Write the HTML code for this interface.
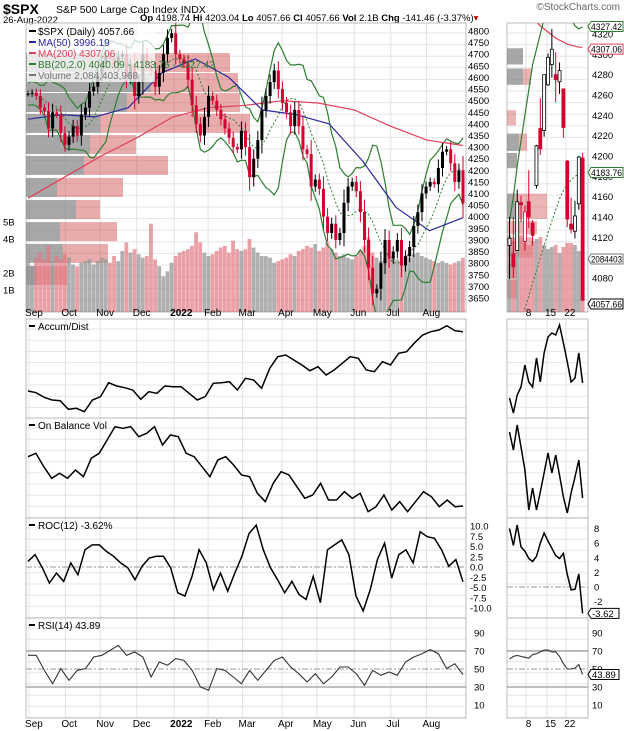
<!DOCTYPE html>
<html><head><meta charset="utf-8">
<style>
html,body{margin:0;padding:0;background:#fff;}
svg{display:block;font-family:"Liberation Sans",sans-serif;}
</style></head>
<body>
<svg id="chart" width="624" height="731" viewBox="0 0 624 731" xmlns="http://www.w3.org/2000/svg">
<defs>
<clipPath id="cm"><rect x="26" y="23" width="440" height="289"/></clipPath>
<clipPath id="cr"><rect x="507" y="23" width="81" height="289"/></clipPath>
</defs>
<rect x="0" y="0" width="624" height="731" fill="#fff"/>
<g>
<text x="3" y="14" font-size="14" font-weight="bold" fill="#000">$SPX</text>
<text x="56" y="13" font-size="10.5" fill="#000">S&amp;P 500 Large Cap Index INDX</text>
<text x="3" y="23" font-size="9.5" fill="#000">26-Aug-2022</text>
<text x="140" y="21" font-size="9.5" fill="#000"><tspan font-weight="bold">Op</tspan> 4198.74 <tspan font-weight="bold">Hi</tspan> 4203.04 <tspan font-weight="bold">Lo</tspan> 4057.66 <tspan font-weight="bold">Cl</tspan> 4057.66 <tspan font-weight="bold">Vol</tspan> 2.1B <tspan font-weight="bold">Chg</tspan> -141.46 (-3.37%)<tspan fill="#c00">▾</tspan></text>
<text x="620" y="10" font-size="10" fill="#666" text-anchor="end">©StockCharts.com</text>
</g>
<g id="grid"></g>
<g id="marks"></g>
<g id="labels"></g>
</svg>
<script>
// ---- data ----
const closes=[4530,4535,4520,4470,4455,4380,4450,4440,
4360,4310,4345,4390,4350,4440,4470,4540,4560,
4610,4660,4690,4680,4650,4690,4700,4600,4650,
4520,4580,4700,4660,4630,4560,4620,4700,4770,
4790,4700,4680,4660,4590,4480,4400,4350,4430,
4520,4500,4460,4420,4380,4340,4300,4290,
4370,4300,4170,4250,4330,4460,4520,4580,4630,
4550,4490,4450,4390,4460,4390,4290,4270,4130,
4160,4120,4000,3930,3970,3900,3930,4060,4130,
4150,4110,4020,3900,3780,3670,3690,3800,3900,
3820,3850,3900,3790,3830,3870,3960,4020,4100,
4130,4150,4140,4210,4280,4290,4230,4150,4200,4057];
const volumes=[2.6,2.4,2.9,3.2,2.8,3.6,2.7,3.0,2.8,3.1,2.9,2.5,2.4,2.6,2.7,2.8,2.5,
2.7,2.9,2.8,2.6,3.0,2.7,3.3,3.8,3.2,3.4,3.1,2.9,3.0,4.9,2.8,2.4,1.8,2.1,
2.6,3.0,3.2,3.3,3.4,3.6,4.4,3.8,3.2,3.0,3.1,3.3,3.5,3.6,3.2,3.9,3.4,
3.3,3.4,4.0,3.5,3.2,3.0,3.0,2.9,2.6,2.7,2.8,2.9,3.1,3.0,3.3,3.4,3.6,3.5,
3.7,3.3,3.5,3.8,3.4,3.2,3.0,3.1,2.9,2.8,3.0,3.3,3.6,4.1,3.2,2.9,2.7,2.8,
2.9,3.0,2.8,2.7,3.0,2.9,3.1,3.2,3.0,2.9,2.8,2.7,2.6,2.7,2.6,2.5,2.6,2.7,2.9];
const ma50=[4420,4440,4430,4470,4620,4680,4600,4460,4440,4400,4240,4040,3940,3996];
const ma200=[4080,4170,4260,4340,4430,4470,4480,4500,4490,4460,4390,4330,4307];
const priceTicks=[4800,4750,4700,4650,4600,4550,4500,4450,4400,4350,4300,4250,4200,4150,4100,4050,4000,3950,3900,3850,3800,3750,3700,3650];
const months=["Sep","Oct","Nov","Dec","2022","Feb","Mar","Apr","May","Jun","Jul","Aug"];
const monthIdx=[0.6,21.5,41.5,62.5,84,103.5,123.3,146,166,187.5,208.5,229];
// volume-by-price rows: top price of row, gray width, red width
const vbpHigh=[4705,4619,4533,4443,4352,4262,4167,4072,3977,3883,3788];
const vbpGray=[104,125,101,74,64,58,31,50,34,37,11];
const vbpRed=[100,87,113,150,46,84,66,24,57,45,30];
const accDist=[107,102,88,80,78,52,55,45,80,90,132,122,117,110,82,105,100,122,120,120,100,80,90,130,132,135,110,145,140,115,175,210,215,200,185,168,180,155,170,190,210,205,170,165,195,185,220,225,252,275,285,290,303,288,285];
const obv=[160,170,130,95,110,95,120,100,155,170,210,250,245,250,220,230,250,195,225,220,170,160,130,100,150,160,135,105,100,50,25,80,115,105,70,35,45,80,30,30,55,35,50,-5,10,45,0,25,-5,25,55,40,10,30,10,12];
const roc=[1.4,3.0,-0.2,-3.9,-1.5,-3.5,1.0,-1.9,4.2,5.4,5.4,3.8,2.6,1.0,-0.2,-3.1,0.2,2.2,2.6,2.6,-0.2,-6.3,-7.1,-2.3,4.2,1.0,-5.5,-1.5,-5.9,-1.5,2.6,8.2,10.2,4.2,-0.2,-3.1,-6.3,-3.5,-6.7,-7.9,-2.3,-8.7,4.2,5.4,6.6,3.0,-7.1,-10.7,-5.5,1.8,5.8,-2.7,3.0,4.2,1.0,8.6,7.4,7.0,4.2,0.2,1.8,-3.62];
const rsi=[65.2,65.2,48.5,33.7,50.4,37.4,48.5,50.4,63.3,65.2,70.7,76.3,65.2,68.9,63.3,41.1,57.8,54.1,61.5,59.6,48.5,30,26.3,50.4,48.5,41.1,33.7,48.5,37.4,48.5,59.6,63.3,52.2,44.8,35.6,44.8,33.7,41.1,52.2,52.2,44.8,31.9,48.5,43,46.7,43,57.8,63.3,67,71.5,67,50.4,55.9,43.89];
// right panel (Aug 1..26)
const rDays=["","","","","","8","","","","","15","","","","","22","","","",""];
const rOpen=[4112,4104,4107,4154,4116,4155,4134,4171,4227,4225,4270,4290,4280,4273,4266,4195,4133,4126,4153,4198];
const rHigh=[4140,4140,4167,4161,4151,4186,4137,4211,4257,4280,4301,4325,4302,4292,4266,4196,4159,4156,4200,4203];
const rLow=[4079,4080,4107,4135,4107,4129,4112,4168,4201,4219,4269,4277,4253,4261,4218,4130,4124,4119,4147,4058];
const rClose=[4119,4091,4155,4152,4145,4140,4122,4210,4207,4280,4297,4305,4275,4284,4228,4138,4128,4141,4199,4058];
const rVol=[3.6,3.3,3.4,3.6,3.2,3.1,3.3,3.4,3.5,3.1,2.9,3.0,3.1,2.7,3.0,3.2,3.2,3.1,2.8,3.4];
const rMa200=[4370,4362,4355,4350,4345,4340,4336,4332,4328,4325,4322,4319,4316,4314,4312,4310,4309,4308,4307,4307];
const rBbUp=[4135,4160,4190,4215,4240,4265,4290,4305,4320,4335,4345,4355,4360,4360,4355,4345,4335,4328,4325,4327];
const rBbMid=[4000,4012,4025,4037,4050,4062,4075,4087,4100,4112,4124,4136,4147,4158,4166,4172,4176,4180,4182,4184];
const rPriceTicks=[4320,4300,4280,4260,4240,4220,4200,4180,4160,4140,4120,4100,4080];
const rAd=[398,413,395,387,365,382,387,358,382,353,337,333,335,325,343,362,382,378,353,383];
const rObv=[432,450,425,447,470,510,488,510,492,473,453,473,455,475,497,513,493,477,460,498];
const rRoc=[8,5.7,8.5,5.5,4.9,3.9,3.5,4.2,6.0,7.4,6.3,5.3,4.3,3.9,4.6,1.7,-0.4,-0.3,1.8,-3.62];
const rRsi=[61,64,65,64,63,62,66,67,69,71,71,69,69,64,56,50,50,51,55,43.89];
const rocTicks=[10,7.5,5,2.5,0,-2.5,-5,-7.5,-10];
const rRocTicks=[8,6,4,2,0,-2];
const rsiTicks=[90,70,50,30,10];

// ---- scales ----
const NS="http://www.w3.org/2000/svg";
const M={x0:26,x1:466}, R={x0:507,x1:588};
const P={top:23,bot:312},AD={top:319,bot:418},OB={top:418,bot:518},RC={top:518,bot:618},RS={top:618,bot:718};
const nC=closes.length;
const xDay=i=>28+i*(463-28)/(250);
const xMain=i=>28+i*(463-28)/(nC-1);
const xArr=(i,n)=>28+i*(463-28)/(n-1);
const yP=p=>31+(4800-p)*267/1150;
const yV=v=>307-v*17;
const xR=i=>509.5+i*3.85;
const yRP=p=>34+(4320-p)*20.33/20;
const yRV=v=>307-v*20;
const yRoc=v=>567-v*4.1;
const yRRoc=v=>587-v*7.3;
const yRsi=v=>669-(v-50)*0.9;
function el(tag,attrs,parent,text){const e=document.createElementNS(NS,tag);for(const k in attrs)e.setAttribute(k,attrs[k]);if(text!==undefined)e.textContent=text;parent.appendChild(e);return e;}
const G=document.getElementById('grid'),K=document.getElementById('marks'),L=document.getElementById('labels');
function poly(pts){return pts.map(p=>p[0].toFixed(1)+','+p[1].toFixed(1)).join(' ');}

// ---- grids & frames ----
[P,AD,OB,RC,RS].forEach(pn=>{
  for(let y=pn.top+10;y<pn.bot;y+=(pn===P?11.6:11.2)){el('line',{x1:M.x0,x2:M.x1,y1:y,y2:y,stroke:'#e6e6e6','stroke-width':1},G);el('line',{x1:R.x0,x2:R.x1,y1:y,y2:y,stroke:'#e6e6e6','stroke-width':1},G);}
  monthIdx.forEach(m=>{const x=xDay(m);el('line',{x1:x,x2:x,y1:pn.top,y2:pn.bot,stroke:'#e2e2e2','stroke-width':1},G);});
  [526,547,566].forEach(x=>{el('line',{x1:x,x2:x,y1:pn.top,y2:pn.bot,stroke:'#e2e2e2','stroke-width':1},G);});
  const f1=el('rect',{x:M.x0,y:pn.top,width:M.x1-M.x0,height:pn.bot-pn.top,fill:'none',stroke:'#bbb','stroke-width':1},G);
  
  
  const f2=el('rect',{x:R.x0,y:pn.top,width:R.x1-R.x0,height:pn.bot-pn.top,fill:'none',stroke:'#bbb','stroke-width':1},G);
  
  
});

// ---- main price panel ----
const gm=el('g',{'clip-path':'url(#cm)'},K);


vbpHigh.forEach((hi,i)=>{
  const yT=yP(hi),yB=yP(hi-82);
  const g=el('rect',{x:M.x0,y:yT,width:vbpGray[i],height:yB-yT,fill:'rgba(130,130,130,0.7)'},gm);
  
  
  const r=el('rect',{x:M.x0+vbpGray[i],y:yT,width:vbpRed[i],height:yB-yT,fill:'rgba(205,70,70,0.45)'},gm);
  
  
});
const bw=(463-28)/(nC-1);
volumes.forEach((v,i)=>{
  const up=i===0||closes[i]>=closes[i-1];
  const b=el('rect',{x:xMain(i)-bw/2,y:yV(v),width:bw-0.3,height:307-yV(v)+5,fill:up?'rgba(150,150,150,0.75)':'rgba(225,120,130,0.7)'},gm);
  
  
});
const bbU=[],bbM=[],bbL=[];
closes.forEach((c,i)=>{const s=closes.slice(Math.max(0,i-7),i+1);const m=s.reduce((a,b)=>a+b,0)/s.length;const sd=Math.sqrt(s.reduce((a,b)=>a+(b-m)*(b-m),0)/s.length);bbM.push([xMain(i),yP(m)]);bbU.push([xMain(i),yP(m+2*Math.max(sd,25))]);bbL.push([xMain(i),yP(m-2*Math.max(sd,25))]);});
let e;
e=el('polyline',{points:poly(bbU),fill:'none',stroke:'#2e7d32','stroke-width':1.2},gm);
e=el('polyline',{points:poly(bbL),fill:'none',stroke:'#2e7d32','stroke-width':1.2},gm);
e=el('polyline',{points:poly(bbM),fill:'none',stroke:'#2e7d32','stroke-width':1,'stroke-dasharray':'2,2'},gm);
e=el('polyline',{points:poly(ma200.map((v,i)=>[xArr(i,ma200.length),yP(v)])),fill:'none',stroke:'#e0405a','stroke-width':1.2},gm);
e=el('polyline',{points:poly(ma50.map((v,i)=>[xArr(i,ma50.length),yP(v)])),fill:'none',stroke:'#2a2a9a','stroke-width':1.2},gm);
closes.forEach((c,i)=>{
  const o=i===0?c:closes[i-1];const d=Math.abs(c-o)*0.35+12;
  const hi=Math.max(o,c)+d,lo=Math.min(o,c)-d;const x=xMain(i);const col=(i>0&&c<closes[i-1])?'#d40030':'#000';
  const w=el('line',{x1:x,x2:x,y1:yP(hi),y2:yP(lo),stroke:col,'stroke-width':1},gm);
  
  
  const b=el('rect',{x:x-1.5,y:yP(Math.max(o,c)),width:3,height:Math.max(1,yP(Math.min(o,c))-yP(Math.max(o,c))),fill:col},gm);
  
  
});
priceTicks.forEach(p=>{const t=el('text',{x:468,y:yP(p)+3.5,'font-size':9.5,fill:'#000'},L,String(p));});
[1,2,4,5].forEach(v=>{const t=el('text',{x:3,y:yV(v)+3.5,'font-size':9.5,fill:'#000'},L,v+'B');});
const lg=el('g',{},L);
el('rect',{x:27,y:24,width:128,height:58,fill:'rgba(255,255,255,0.75)'},lg);
[["$SPX (Daily) 4057.66","#000"],["MA(50) 3996.19","#2a2a9a"],["MA(200) 4307.06","#e0405a"],["BB(20,2.0) 4040.09 - 4183.76 - 4327.42","#2e7d32"],["Volume 2,084,403,968","#777"]].forEach((r,i)=>{
  el('line',{x1:29,x2:36,y1:31+i*11,y2:31+i*11,stroke:r[1],'stroke-width':2},lg);
  const t=el('text',{x:38,y:35+i*11,'font-size':10,fill:r[1]},lg,r[0]);
});
monthIdx.forEach((m,i)=>{[316,727].forEach(y=>{const t=el('text',{x:xDay(m)-4,y:y,'font-size':10,fill:'#000','font-weight':months[i]==='2022'?'bold':'normal'},L,months[i]);});});

// ---- indicator panels (main) ----
function line(arr,xf,yf,name,color,w){const e=el('polyline',{points:poly(arr.map((v,i)=>[xf(i),yf(v)])),fill:'none',stroke:color||'#000','stroke-width':w||1.5},K);return e;}
line(accDist,i=>xArr(i,accDist.length),v=>310+(350-v)/3,'accum-dist-line');
line(obv,i=>xArr(i,obv.length),v=>310+(600-v)/3,'obv-line');
el('line',{x1:M.x0,x2:M.x1,y1:yRoc(0),y2:yRoc(0),stroke:'#999','stroke-dasharray':'6,2,2,2'},K);
line(roc,i=>xArr(i,roc.length),yRoc,'roc-line');
el('line',{x1:M.x0,x2:M.x1,y1:yRsi(70),y2:yRsi(70),stroke:'#999','stroke-width':1.3},K);
el('line',{x1:M.x0,x2:M.x1,y1:yRsi(30),y2:yRsi(30),stroke:'#999','stroke-width':1.3},K);
el('line',{x1:M.x0,x2:M.x1,y1:yRsi(50),y2:yRsi(50),stroke:'#999','stroke-dasharray':'6,2,2,2'},K);
line(rsi,i=>xArr(i,rsi.length),yRsi,'rsi-line','#333',1.1);
rocTicks.forEach(v=>{const t=el('text',{x:470,y:yRoc(v)+3.5,'font-size':9.5},L,v.toFixed(1));});
rsiTicks.forEach(v=>{const t=el('text',{x:474,y:yRsi(v)+3.5,'font-size':9.5},L,String(v));
  const t2=el('text',{x:592,y:yRsi(v)+3.5,'font-size':9.5},L,String(v));});
[["Accum/Dist",AD.top],["On Balance Vol",OB.top],["ROC(12) -3.62%",RC.top],["RSI(14) 43.89",RS.top]].forEach(r=>{
  el('line',{x1:29,x2:35,y1:r[1]+7,y2:r[1]+7,stroke:'#000','stroke-width':2},L);
  const t=el('text',{x:38,y:r[1]+11,'font-size':10,fill:'#000'},L,r[0]);
});

// ---- right panel ----
const gr=el('g',{'clip-path':'url(#cr)'},K);


[[4290,4306,16,0],[4270,4286,16,8],[4230,4245,0,9],[4205,4222,12,8],[4188,4203,10,0],[4138,4163,8,32],[4123,4136,0,30],[4100,4120,0,26],[4080,4098,0,10],[4060,4078,0,10]].forEach(r=>{
  const yT=yRP(r[1]),yB=yRP(r[0]);
  el('rect',{x:R.x0,y:yT,width:r[2],height:yB-yT,fill:'rgba(130,130,130,0.7)'},gr);
  el('rect',{x:R.x0+r[2],y:yT,width:r[3],height:yB-yT,fill:'rgba(205,70,70,0.4)'},gr);
});
rVol.forEach((v,i)=>{const up=i===0||rClose[i]>=rClose[i-1];const b=el('rect',{x:xR(i)-1.9,y:yRV(v),width:3.8,height:307-yRV(v)+5,fill:up?'rgba(150,150,150,0.75)':'rgba(225,120,130,0.7)'},gr);});
e=el('polyline',{points:poly(rMa200.map((v,i)=>[xR(i),yRP(v)])),fill:'none',stroke:'#e0405a','stroke-width':1.2},gr);
e=el('polyline',{points:poly(rBbUp.map((v,i)=>[xR(i),yRP(v)])),fill:'none',stroke:'#2e7d32','stroke-width':1.2},gr);
e=el('polyline',{points:poly(rBbMid.map((v,i)=>[xR(i),yRP(v)])),fill:'none',stroke:'#2e7d32','stroke-width':1,'stroke-dasharray':'2,2'},gr);
rClose.forEach((c,i)=>{
  const o=rOpen[i],x=xR(i);const col=(i>0&&c<rClose[i-1])?'#d40030':'#000';
  const w=el('line',{x1:x,x2:x,y1:yRP(rHigh[i]),y2:yRP(rLow[i]),stroke:col,'stroke-width':1},gr);
  
  
  const hollow=c>o;
  const b=el('rect',{x:x-1.5,y:yRP(Math.max(o,c)),width:3,height:Math.max(1,yRP(Math.min(o,c))-yRP(Math.max(o,c))),fill:hollow?'#fff':col,stroke:col,'stroke-width':0.8},gr);
  
  
});
rPriceTicks.forEach(p=>{const t=el('text',{x:592,y:yRP(p)+3.5,'font-size':9.5},L,String(p));});
[["4327.42",yRP(4327.42),"#2e7d32"],["4307.06",yRP(4307.06)+2,"#e0405a"],["4183.76",yRP(4183.76),"#2e7d32"],["2084403",yRV(2.6)+4,"#777"],["4057.66",304,"#000"]].forEach(r=>{
  const g=el('g',{},L);
  el('path',{d:`M588 ${r[1]} l3 -5 h32 v10 h-32 z`,fill:'#fff',stroke:r[2],'stroke-width':1},g);
  el('text',{x:591,y:r[1]+3.3,'font-size':9,fill:'#000',textLength:31,lengthAdjust:'spacingAndGlyphs'},g,r[0]);
});
rDays.forEach((d,i)=>{if(d){[316,727].forEach(y=>{const t=el('text',{x:xR(i)-3,y:y,'font-size':10},L,d);});}});
line(rAd,xR,v=>v,'right-accum-dist-line');
line(rObv,xR,v=>v,'right-obv-line');
el('line',{x1:R.x0,x2:R.x1,y1:yRRoc(0),y2:yRRoc(0),stroke:'#999','stroke-dasharray':'6,2,2,2'},K);
line(rRoc,xR,yRRoc,'right-roc-line');
rRocTicks.forEach(v=>{const t=el('text',{x:594,y:yRRoc(v)+3.5,'font-size':9.5},L,String(v));});
el('line',{x1:R.x0,x2:R.x1,y1:yRsi(70),y2:yRsi(70),stroke:'#999','stroke-width':1.3},K);
el('line',{x1:R.x0,x2:R.x1,y1:yRsi(30),y2:yRsi(30),stroke:'#999','stroke-width':1.3},K);
el('line',{x1:R.x0,x2:R.x1,y1:yRsi(50),y2:yRsi(50),stroke:'#999','stroke-dasharray':'6,2,2,2'},K);
line(rRsi,xR,yRsi,'right-rsi-line','#333',1.1);
[["-3.62",yRRoc(-3.62)],["43.89",yRsi(43.89)]].forEach(r=>{
  const g=el('g',{},L);
  el('path',{d:`M588 ${r[1]} l3 -5 h28 v10 h-28 z`,fill:'#fff',stroke:'#000','stroke-width':1},g);
  el('text',{x:592,y:r[1]+3.5,'font-size':9.5},g,r[0]);
});
</script>
</body></html>
